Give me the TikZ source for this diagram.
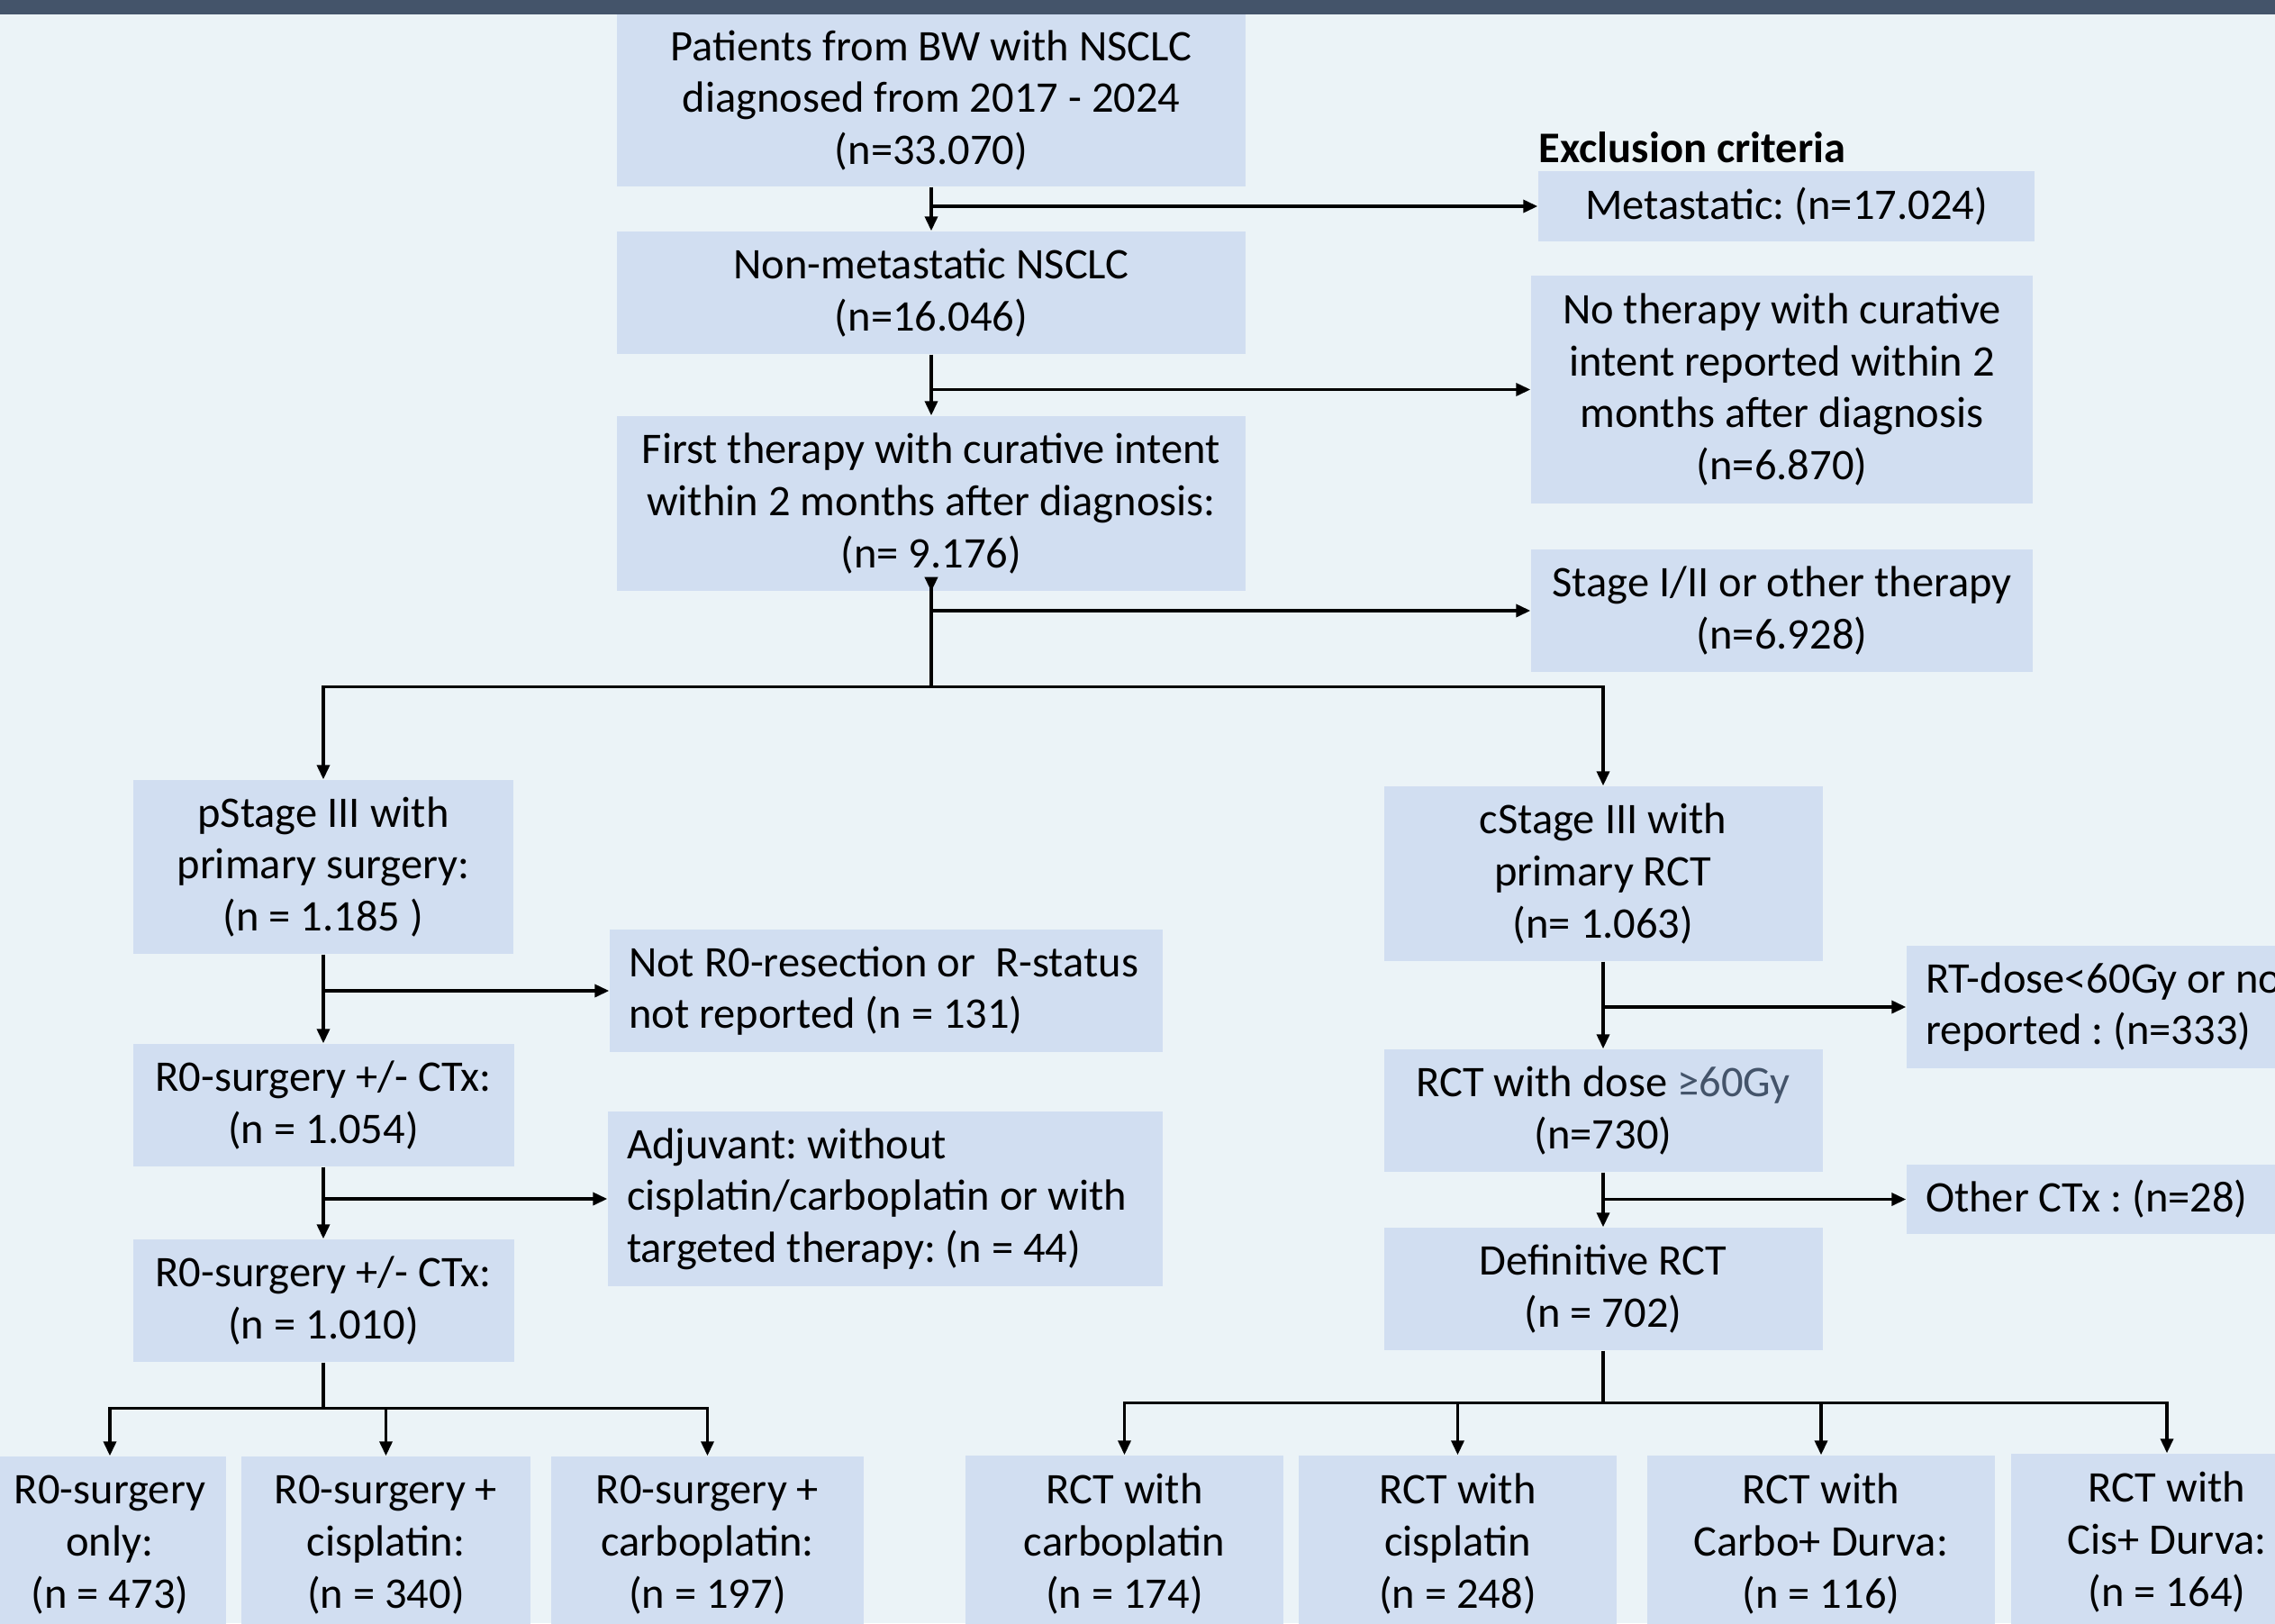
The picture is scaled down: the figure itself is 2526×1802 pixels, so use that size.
\documentclass[tikz,border=0pt]{standalone}
\usepackage{fontspec}
\setmainfont{Carlito}
\definecolor{flowbg}{RGB}{235,243,247}
\definecolor{flowbox}{RGB}{209,222,241}
\definecolor{flowbar}{RGB}{68,84,106}
\usetikzlibrary{arrows.meta,positioning}
\newcommand\flowfont{\frenchspacing\fontsize{13.8pt}{16.4pt}\selectfont}
\tikzset{
  box/.style={rectangle,fill=flowbox,inner sep=0pt,align=center,
              minimum width=#1,font=\flowfont},
  box/.default=42mm,
  ebox/.style={rectangle,fill=flowbox,inner xsep=2.1mm,inner ysep=0pt,
               align=flush left,text width=#1,font=\flowfont},
  ebox/.default=57.2mm,
  arr/.style={-{Triangle[length=1.6mm,width=1.4mm]},line width=1pt,#1},
  arr/.default=black,
  stem/.style={line width=1pt},
}

\begin{document}
\begin{tikzpicture}[x=0.1mm,y=-0.1mm]
  \useasboundingbox (0,0) rectangle (2526,1802);
  \clip (0,0) rectangle (2526,1802);
  \fill[flowbg] (0,0) rectangle (2526,1802);
  \fill[flowbar] (0,0) rectangle (2526,16);

  % main column
  \node[box=69.8mm,minimum height=19.1mm] (src) at (1034,111.5)
    {Patients from BW with NSCLC\\diagnosed from 2017 - 2024\\(n=33.070)};
  \node[box=69.8mm,minimum height=13.6mm] (nonmet) at (1034,325)
    {Non-metastatic NSCLC\\(n=16.046)};
  \node[box=69.8mm,minimum height=19.4mm] (first) at (1034,559)
    {First therapy with curative intent\\within 2 months after diagnosis:\\(n= 9.176)};

  % exclusions
  \node[font=\flowfont\bfseries,anchor=base west,inner sep=0pt] (excl) at (1708,180)
    {Exclusion criteria};
  \node[box=55.1mm,minimum height=7.8mm] (meta) at (1983.5,229)
    {Metastatic: (n=17.024)};
  \node[box=55.7mm,minimum height=25.3mm] (nother) at (1978.5,432.5)
    {No therapy with curative\\intent reported within 2\\months after diagnosis\\(n=6.870)};
  \node[box=55.7mm,minimum height=13.6mm] (stage12) at (1978.5,678)
    {Stage I/II or other therapy\\(n=6.928)};

  % surgery arm
  \node[box=42.2mm,minimum height=19.3mm] (pstage) at (359,962.5)
    {pStage III with\\primary surgery:\\(n = 1.185 )};
  \node[box=42.3mm,minimum height=13.6mm] (rzeroa) at (359,1227)
    {R0-surgery +/- CTx:\\(n = 1.054)};
  \node[box=42.3mm,minimum height=13.6mm] (rzerob) at (359,1444)
    {R0-surgery +/- CTx:\\(n = 1.010)};
  \node[ebox,minimum height=13.6mm] (notrzero) at (984,1100)
    {Not R0-resection or\ \ R-status\\not reported (n = 131)};
  \node[ebox=57.4mm,minimum height=19.4mm] (adjuv) at (983,1331)
    {Adjuvant: without\\cisplatin/carboplatin or with\\targeted therapy: (n = 44)};

  % RCT arm
  \node[box=48.7mm,minimum height=19.4mm] (cstage) at (1780,970)
    {cStage III with\\primary RCT\\(n= 1.063)};
  \node[box=48.7mm,minimum height=13.6mm] (rctsixty) at (1780,1233)
    {RCT with dose {\color{flowbar}≥60Gy}\\(n=730)};
  \node[box=48.7mm,minimum height=13.6mm] (defin) at (1780,1431)
    {Definitive RCT\\(n = 702)};
  \node[ebox,minimum height=13.6mm] (rtdose) at (2424,1118)
    {RT-dose<60Gy or not\\reported : (n=333)};
  \node[ebox,minimum height=7.7mm] (otherctx) at (2424,1331.5)
    {Other CTx : (n=28)};

  % final groups
  \node[box=25.8mm,minimum height=19.6mm] (ronly) at (122,1715)
    {R0-surgery\\only:\\(n = 473)};
  \node[box=32.1mm,minimum height=19.6mm] (rcis) at (428.5,1715)
    {R0-surgery +\\cisplatin:\\(n = 340)};
  \node[box=34.7mm,minimum height=19.6mm] (rcarbo) at (785.5,1715)
    {R0-surgery +\\carboplatin:\\(n = 197)};
  \node[box=35.3mm,minimum height=19.6mm] (tcarbo) at (1248.5,1714)
    {RCT with\\carboplatin\\(n = 174)};
  \node[box=35.3mm,minimum height=19.6mm] (tcis) at (1618.5,1714)
    {RCT with\\cisplatin\\(n = 248)};
  \node[box=38.6mm,minimum height=19.6mm] (tcarbodur) at (2022,1714)
    {RCT with\\Carbo+ Durva:\\(n = 116)};
  \node[box=34.6mm,minimum height=19.6mm] (tcisdur) at (2406,1712)
    {RCT with\\Cis+ Durva:\\(n = 164)};

  % connectors
  \draw[arr] (src) -- (nonmet);
  \draw[arr] (src.south |- meta.west) -- (meta.west);
  \draw[arr] (nonmet) -- (first);
  \draw[arr] (nonmet.south |- nother.west) -- (nother.west);
  \draw[stem,{Triangle[reversed,length=1.6mm,width=1.4mm]}-] ([yshift=1.6mm]first.south) -- ++(0,122) coordinate (split);
  \draw[arr] (first.south |- stage12.west) -- (stage12.west);
  \draw[arr] (split) -| (pstage.north);
  \draw[arr] (split) -| (cstage.north);

  \draw[arr] (pstage) -- (rzeroa);
  \draw[arr] (pstage.south |- notrzero.west) -- (notrzero.west);
  \draw[arr] (rzeroa) -- (rzerob);
  \draw[arr] (rzeroa.south |- adjuv.west) -- (adjuv.west);
  \draw[stem] (rzerob.south) -- ++(0,51) coordinate (lsplit);
  \foreach \n in {ronly,rcis,rcarbo}
    \draw[arr] (lsplit) -| (\n.north);

  \draw[arr] (cstage) -- (rctsixty);
  \draw[arr] (cstage.south |- rtdose.west) -- (rtdose.west);
  \draw[arr] (rctsixty) -- (defin);
  \draw[arr] (rctsixty.south |- otherctx.west) -- (otherctx.west);
  \draw[stem] (defin.south) -- ++(0,58) coordinate (rsplit);
  \foreach \n in {tcarbo,tcis,tcarbodur,tcisdur}
    \draw[arr] (rsplit) -| (\n.north);
\end{tikzpicture}
\end{document}
